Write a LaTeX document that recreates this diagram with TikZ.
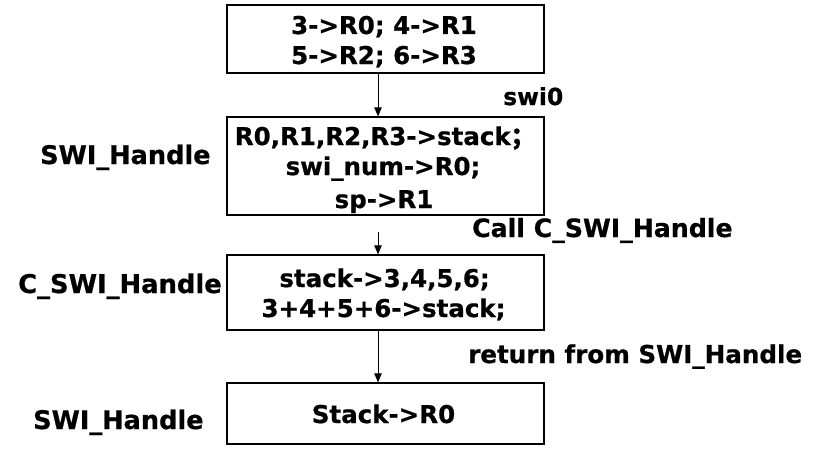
\documentclass[tikz,border=0pt]{standalone}
\usepackage{fontspec}
\setmainfont{DejaVu Sans}[BoldFeatures={FakeBold=0.7}]
\newfontfamily\cjk{Noto Sans CJK SC}[FakeBold=1.5]
\usetikzlibrary{arrows.meta}
\begin{document}
\begin{tikzpicture}[x=1pt,y=-1pt,
  box/.style={draw,line width=1.3pt,inner sep=0pt,minimum width=317pt},
  txt/.style={inner sep=0pt,anchor=base,font=\fontsize{24.5}{30}\selectfont\bfseries},
  lbl/.style={inner sep=0pt,anchor=base west},
  arr/.style={line width=0.8pt,-{Triangle[length=9pt,width=7.5pt]}}]
\useasboundingbox (0,0) rectangle (818,452);
\node[box,minimum height=68pt] (b1) at (385.5,39) {};
\node[box,minimum height=98pt] (b2) at (385.5,166) {};
\node[box,minimum height=75pt] (b3) at (385.5,292.5) {};
\node[box,minimum height=61pt] (b4) at (385.5,413.5) {};
\node[txt] (t1a) at (384,34) {3->R0; 4->R1};
\node[txt] (t1b) at (384,64) {5->R2; 6->R3};
\node[txt] (t2a) at (385,145) {R0,R1,R2,R3->stack{\cjk ；}};
\node[txt] (t2b) at (383,175) {swi\_num->R0;};
\node[txt] (t2c) at (384,208) {sp->R1};
\node[txt] (t3a) at (384.5,287) {stack->3,4,5,6;};
\node[txt] (t3b) at (383.5,317) {3+4+5+6->stack;};
\node[txt] (t4a) at (383.5,423) {Stack->R0};
\coordinate (ax) at (378,0);
\coordinate (s2) at (378,232);
\draw[arr] (b1.south -| ax) -- (b2.north -| ax);
\draw[arr] (s2) -- (b3.north -| ax);
\draw[arr] (b3.south -| ax) -- (b4.north -| ax);
\node[lbl,font=\fontsize{23.5}{28}\selectfont\bfseries] (l1) at (503,105) {swi0};
\node[lbl,font=\fontsize{25.6}{28}\selectfont\bfseries] (l2) at (40,164) {SWI\_Handle};
\node[lbl,font=\fontsize{25.2}{28}\selectfont\bfseries] (l3) at (472,237) {Call C\_SWI\_Handle};
\node[lbl,font=\fontsize{25.8}{28}\selectfont\bfseries] (l4) at (18,293) {C\_SWI\_Handle};
\node[lbl,font=\fontsize{24.6}{28}\selectfont\bfseries] (l5) at (468,363) {return from SWI\_Handle};
\node[lbl,font=\fontsize{25.6}{28}\selectfont\bfseries] (l6) at (33,429) {SWI\_Handle};
\end{tikzpicture}
\end{document}
